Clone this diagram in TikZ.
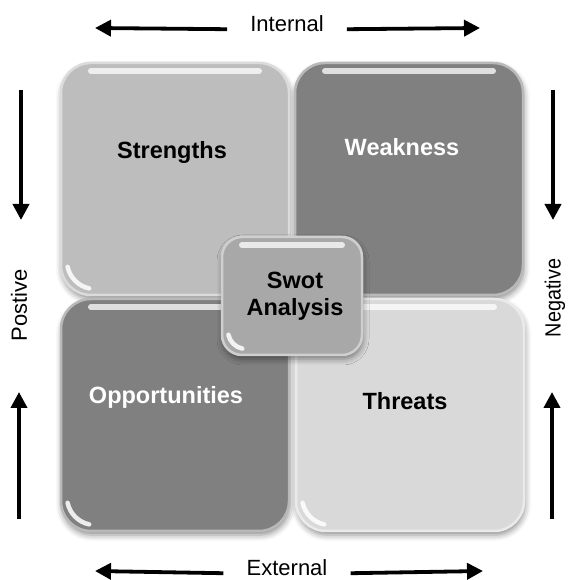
\documentclass[tikz,border=0pt]{standalone}
\usepackage{fontspec}
\setmainfont{Liberation Sans}
\usetikzlibrary{positioning, arrows.meta, shadows.blur}

\definecolor{lightq}{gray}{0.74}  % strengths
\definecolor{darkq}{gray}{0.50}   % weakness, opportunities
\definecolor{paleq}{gray}{0.85}   % threats
\definecolor{midq}{gray}{0.66}    % centre box

\tikzset{
  bigarrow/.style={line width=3.8pt, -{Triangle[length=16pt, width=16pt]}}, % heavy black arrows round the edge
  gloss/.style={path picture={ % white highlights: band along the top, crescent at the lower left corner
      \draw[white, opacity=.75, line width=6pt, line cap=round]
        ([shift={(#1,-8pt)}]path picture bounding box.north west) --
        ([shift={(-#1,-8pt)}]path picture bounding box.north east);
      \coordinate (gc) at ([shift={(#1+4pt,#1+4pt)}]path picture bounding box.south west);
      \draw[white, opacity=.85, line width=4.5pt, line cap=round] ([shift={(192:#1-2pt)}]gc)
        arc[start angle=192, end angle=258, radius=#1-2pt];
  }},
  gloss/.default=30pt,
  quad/.style={fill=#1, draw=#1!55!white, line width=2.5pt, rounded corners=30pt,
    minimum width=228pt, minimum height=232pt, inner sep=0pt, gloss,
    blur shadow={shadow xshift=1pt, shadow yshift=-4pt, shadow blur radius=6pt, shadow opacity=45}},
  boxtext/.style={font=\fontsize{23.5}{27}\selectfont\bfseries},
  sidetext/.style={font=\fontsize{22}{24}\selectfont},
}

\begin{document}
\begin{tikzpicture}[x=1pt, y=1pt, on grid]
  \useasboundingbox (0,0) rectangle (568,580);

  % the four quadrants
  \node[quad=lightq] (S) at (175,401) {};
  \node[quad=darkq, right=234pt of S] (W) {};
  \node[quad=darkq, below=236pt of S] (O) {};
  \node[quad=paleq, right=235pt of O] (T) {};

  \node[boxtext] (s-text) at ([shift={(-3pt,27pt)}]S.center) {Strengths};
  \node[boxtext, text=white] (w-text) at ([shift={(-7pt,32pt)}]W.center) {Weakness};
  \node[boxtext, text=white] (o-text) at ([shift={(-9pt,18pt)}]O.center) {Opportunities};
  \node[boxtext] (t-text) at ([shift={(-5pt,14pt)}]T.center) {Threats};

  % small box in the middle
  \node[quad=midq, rounded corners=20pt, gloss=20pt, minimum width=140pt, minimum height=118pt] (swot) at (292,284) {};
  \node[boxtext, align=center] (swot-text) at ([xshift=3pt]swot.center) {Swot\\Analysis};

  % labels and arrows along the top and bottom
  \node[sidetext, inner xsep=23pt] (int) at (287,556) {Internal};
  \coordinate (int-l) at (95,552);
  \coordinate (int-r) at (480,552);
  \draw[bigarrow] (int.mid west) -- (int-l);
  \draw[bigarrow] (int.mid east) -- (int-r);

  \node[sidetext, inner xsep=23pt] (ext) at (287,12) {External};
  \coordinate (ext-l) at (95,9);
  \coordinate (ext-r) at (483,9);
  \draw[bigarrow] (ext.mid west) -- (ext-l);
  \draw[bigarrow] (ext.mid east) -- (ext-r);

  % labels and arrows down the sides
  \node[sidetext, rotate=90] (pos) at (19,275) {Postive};
  \coordinate (pos-a) at (21,490);
  \coordinate (pos-b) at (21,360);
  \coordinate (pos-c) at (19,61);
  \coordinate (pos-d) at (19,188);
  \draw[bigarrow] (pos-a) -- (pos-b);
  \draw[bigarrow] (pos-c) -- (pos-d);

  \node[sidetext, rotate=90] (neg) at (555,282) {\scalebox{0.9}[1]{Negative}};
  \coordinate (neg-a) at (553,490);
  \coordinate (neg-b) at (553,360);
  \coordinate (neg-c) at (552,61);
  \coordinate (neg-d) at (552,188);
  \draw[bigarrow] (neg-a) -- (neg-b);
  \draw[bigarrow] (neg-c) -- (neg-d);
\end{tikzpicture}
\end{document}
